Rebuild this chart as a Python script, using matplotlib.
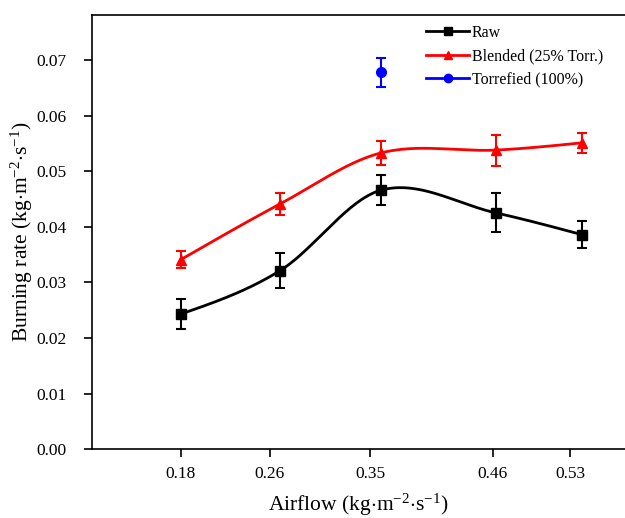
import numpy as np
import matplotlib
matplotlib.use("Agg")
import matplotlib.pyplot as plt

# data
x_pts = [0.18, 0.269, 0.36, 0.463, 0.54]
tick_vals = [0.18, 0.26, 0.35, 0.46, 0.53]
tick_labels = ["0.18", "0.26", "0.35", "0.46", "0.53"]

raw = [0.0243, 0.0321, 0.0466, 0.0425, 0.0386]
raw_err = [0.0027, 0.0031, 0.0027, 0.0035, 0.0024]

blend = [0.0341, 0.0441, 0.0533, 0.0538, 0.0551]
blend_err = [0.0015, 0.0019, 0.0021, 0.0028, 0.0018]

torr_x = [0.36]
torr = [0.0678]
torr_err = [0.0026]


def smooth(x, y, n=300):
    # Catmull-Rom style cubic Hermite through the points
    x = np.asarray(x, float)
    y = np.asarray(y, float)
    h = np.diff(x)
    d = np.diff(y) / h
    m = np.zeros_like(y)
    m[1:-1] = (y[2:] - y[:-2]) / (x[2:] - x[:-2])
    m[0] = 1.5 * d[0] - 0.5 * m[1]
    m[-1] = 1.5 * d[-1] - 0.5 * m[-2]
    xs = np.linspace(x[0], x[-1], n)
    ys = np.empty_like(xs)
    for j, t in enumerate(xs):
        i = int(np.clip(np.searchsorted(x, t) - 1, 0, len(x) - 2))
        s = (t - x[i]) / h[i]
        h00 = 2 * s**3 - 3 * s**2 + 1
        h10 = s**3 - 2 * s**2 + s
        h01 = -2 * s**3 + 3 * s**2
        h11 = s**3 - s**2
        ys[j] = h00 * y[i] + h10 * h[i] * m[i] + h01 * y[i + 1] + h11 * h[i] * m[i + 1]
    return xs, ys


plt.rcParams['font.family'] = ['Liberation Serif', 'DejaVu Serif']
plt.rcParams['mathtext.fontset'] = 'custom'
plt.rcParams['mathtext.rm'] = 'Liberation Serif'
plt.rcParams['mathtext.it'] = 'Liberation Serif:italic'

fig = plt.figure(figsize=(6.25, 5.18), dpi=100)
ax = fig.add_axes([0.147, 0.133, 0.853, 0.838])

for y, e, col, mk, lab in [(raw, raw_err, "black", "s", "Raw"),
                           (blend, blend_err, "red", "^", "Blended (25% Torr.)")]:
    xs, ys = smooth(x_pts, y)
    ax.plot(xs, ys, color=col, lw=2)
    ax.errorbar(x_pts, y, yerr=e, fmt=mk, color=col, ms=7, capsize=3.5,
                elinewidth=1.5, capthick=1.5)
    ax.plot([], [], color=col, marker=mk, ms=6, lw=2, label=lab)

ax.errorbar(torr_x, torr, yerr=torr_err, fmt="o", color="blue", ms=7,
            capsize=3.5, elinewidth=1.5, capthick=1.5)
ax.plot([], [], color="blue", marker="o", ms=6, lw=2, label="Torrefied (100%)")

ax.set_xlim(0.10, 0.579)
ax.set_ylim(0, 0.0781)
ax.set_xticks(tick_vals)
ax.set_xticklabels(tick_labels)
yt = np.arange(0, 0.071, 0.01)
ax.set_yticks(yt)
ax.set_yticklabels(["%.2f" % v for v in yt])
ax.tick_params(direction="out", length=6, width=1.2, labelsize=12.5)
ax.tick_params(axis="y", pad=12)
ax.tick_params(axis="x", pad=6)
ax.spines["right"].set_visible(False)
for s in ax.spines.values():
    s.set_linewidth(1.2)

ax.set_xlabel(r"Airflow (kg$\cdot$m$^{\mathrm{-2}}$$\cdot$s$^{\mathrm{-1}}$)", fontsize=15.5, labelpad=7)
ax.set_ylabel(r"Burning rate (kg$\cdot$m$^{\mathrm{-2}}$$\cdot$s$^{\mathrm{-1}}$)", fontsize=15.5, labelpad=1)

ax.legend(loc="upper left", bbox_to_anchor=(0.6, 1.01), frameon=False, fontsize=11.5,
          handlelength=2.7, handletextpad=0.15, labelspacing=0.45)

fig.savefig("out.png", dpi=100)
